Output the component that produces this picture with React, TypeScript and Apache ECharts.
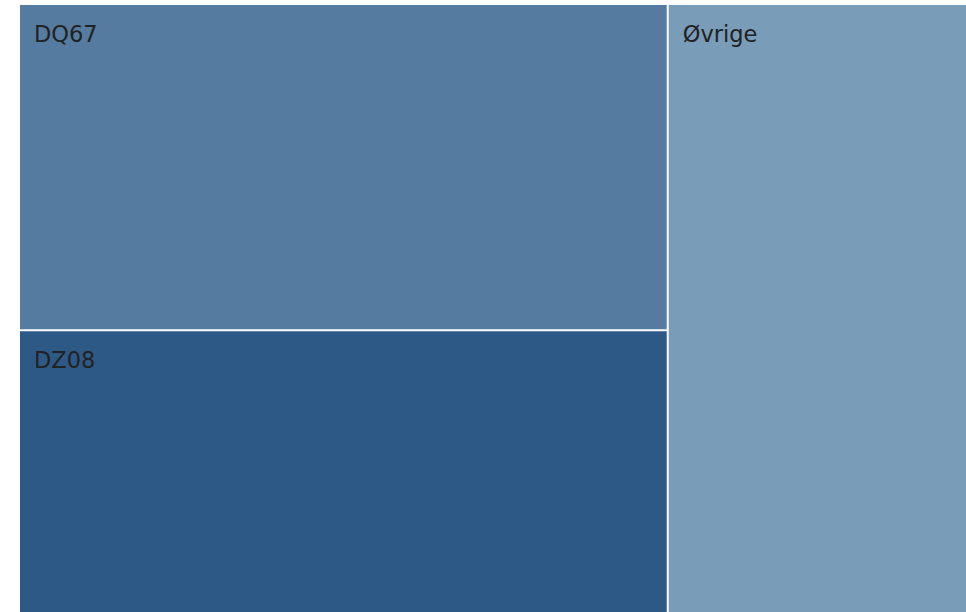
import React, { useEffect, useRef } from "react";
import * as echarts from "echarts";

const categories = ["DQ67", "DZ08", "Øvrige"];
const values = [367, 318, 316];
const colors = ["#557ca0", "#2d5986", "#799cb8"];

export default function App() {
  const ref = useRef<HTMLDivElement>(null);
  useEffect(() => {
    if (!ref.current) return;
    const chart = echarts.init(ref.current, undefined, { renderer: "svg" });
    chart.setOption({
      animation: false,
      series: [
        {
          type: "treemap",
          left: 20,
          top: 5,
          right: 0,
          bottom: 0,
          roam: false,
          nodeClick: false,
          sort: false,
          breadcrumb: { show: false },
          levels: [
            { itemStyle: { gapWidth: 2, borderWidth: 0 } },
            { itemStyle: { borderWidth: 0, gapWidth: 0 } },
          ],
          label: {
            show: true,
            position: [14, 17],
            padding: 0,
            fontFamily: "DejaVu Sans",
            fontSize: 22.5,
            color: "#222222",
          },
          data: categories.map((name, i) => ({
            name,
            value: values[i],
            itemStyle: { color: colors[i] },
          })),
        },
      ],
    });
    return () => chart.dispose();
  }, []);
  return (
    <div
      ref={ref}
      style={{ position: "absolute", left: 0, top: 0, width: 966, height: 612 }}
    />
  );
}
